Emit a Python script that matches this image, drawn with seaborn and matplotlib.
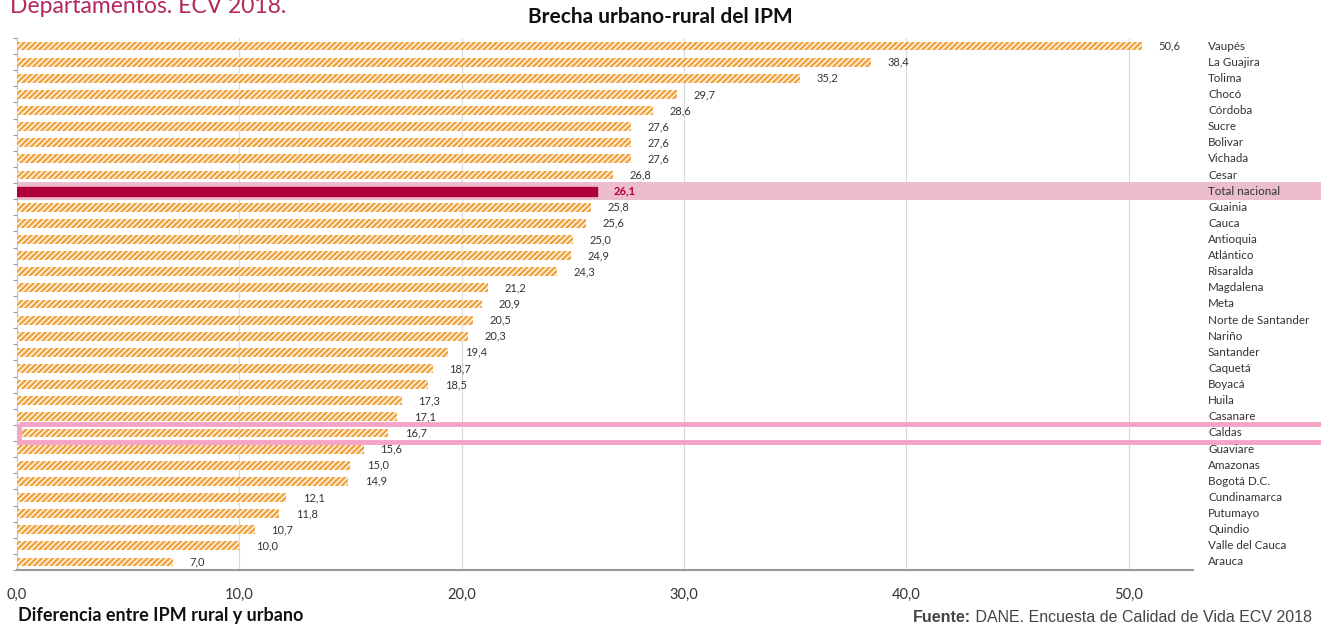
import numpy as np
import pandas as pd
import matplotlib
matplotlib.use("Agg")
import matplotlib.pyplot as plt
import matplotlib.transforms as mtransforms
from matplotlib.patches import Rectangle
import seaborn as sns

# Data
departamentos = ["Vaupés", "La Guajira", "Tolima", "Chocó", "Córdoba", "Sucre",
                 "Bolivar", "Vichada", "Cesar", "Total nacional", "Guainia", "Cauca",
                 "Antioquia", "Atlántico", "Risaralda", "Magdalena", "Meta",
                 "Norte de Santander", "Nariño", "Santander", "Caquetá", "Boyacá",
                 "Huila", "Casanare", "Caldas", "Guaviare", "Amazonas", "Bogotá D.C.",
                 "Cundinamarca", "Putumayo", "Quindio", "Valle del Cauca", "Arauca"]
brecha = [50.6, 38.4, 35.2, 29.7, 28.6, 27.6, 27.6, 27.6, 26.8, 26.1, 25.8, 25.6,
          25.0, 24.9, 24.3, 21.2, 20.9, 20.5, 20.3, 19.4, 18.7, 18.5, 17.3, 17.1,
          16.7, 15.6, 15.0, 14.9, 12.1, 11.8, 10.7, 10.0, 7.0]
x_ticks = [0, 10, 20, 30, 40, 50]

df = pd.DataFrame({"dep": departamentos, "brecha": brecha})

sns.set_style("white")
plt.rcParams["font.family"] = ["Lato", "DejaVu Sans"]
plt.rcParams["hatch.linewidth"] = 1.7

ORANGE = "#F0A33C"
CRIMSON = "#B0003A"
PINK = "#ECBCCF"
PINK_EDGE = "#F5A3C7"

fig = plt.figure(figsize=(13.21, 6.29), dpi=100)
ax = fig.add_axes([17 / 1321, 1 - 570 / 629, (1193 - 17) / 1321, (570 - 38) / 629])

sns.barplot(data=df, x="brecha", y="dep", orient="h", ax=ax, width=0.55,
            color=ORANGE, saturation=1)

total_idx = departamentos.index("Total nacional")
caldas_idx = departamentos.index("Caldas")

for i, p in enumerate(ax.patches):
    if i == total_idx:
        p.set_facecolor(CRIMSON)
        p.set_edgecolor(CRIMSON)
        p.set_hatch(None)
    else:
        p.set_facecolor("#FFF8EE")
        p.set_edgecolor(ORANGE)
        p.set_linewidth(0)
        p.set_hatch("//////")
    p.set_zorder(3)

ax.set_xlim(0, 52.9)
ax.set_ylim(len(departamentos) - 0.5, -0.5)

# highlight band for Total nacional
trans = mtransforms.blended_transform_factory(ax.transAxes, ax.transData)
xr = (1321 - 17) / (1193 - 17)
ax.add_patch(Rectangle((0, total_idx - 0.55), xr, 1.1, transform=trans,
                       facecolor=PINK, edgecolor="none", clip_on=False, zorder=1))
# outline for Caldas
ax.add_patch(Rectangle((0.002, caldas_idx - 0.55), xr, 1.1, transform=trans,
                       facecolor="none", edgecolor=PINK_EDGE, linewidth=3.5,
                       clip_on=False, zorder=5))

# value labels and department names
for i, v in enumerate(brecha):
    lbl = f"{v:.1f}".replace(".", ",")
    if i == total_idx:
        ax.text(v + 0.75, i, lbl, va="center", ha="left", fontsize=8,
                color=CRIMSON, fontweight="bold", zorder=6)
    else:
        ax.text(v + 0.75, i, lbl, va="center", ha="left", fontsize=8,
                color="#333333", zorder=6)
    ax.text(1.0128, i, departamentos[i], transform=trans, va="center", ha="left",
            fontsize=8.4, color="#333333", clip_on=False, zorder=6)

# axes styling
ax.set_xticks(x_ticks)
ax.set_xticklabels([f"{t:.1f}".replace(".", ",") for t in x_ticks], fontsize=10.5,
                   color="#333333")
ax.tick_params(axis="x", length=4, width=1, color="#999999", pad=9, direction="out")
ax.xaxis.grid(True, color="#D9D9D9", linewidth=0.8, zorder=0)
ax.set_axisbelow(True)
ax.set_yticks(np.arange(-0.5, len(departamentos), 1))
ax.set_yticklabels([])
ax.tick_params(axis="y", length=3, width=0.8, color="#999999", left=True)
ax.set_xlabel("")
ax.set_ylabel("")
for s in ["top", "right"]:
    ax.spines[s].set_visible(False)
ax.spines["left"].set_color("#BBBBBB")
ax.spines["left"].set_linewidth(0.8)
ax.spines["bottom"].set_color("#999999")
ax.spines["bottom"].set_linewidth(1.5)

# titles and notes
fig.text(10 / 1321, 1 - 13 / 629, "Departamentos. ECV 2018.", fontsize=16.5,
         color="#B4275E", ha="left", va="baseline")
fig.text(660 / 1321, 1 - 17 / 629, "Brecha urbano-rural del IPM", fontsize=15,
         fontweight="bold", color="#111111", ha="center", va="center")
fig.text(18 / 1321, 1 - 616 / 629, "Diferencia entre IPM rural y urbano", fontsize=13,
         fontweight="bold", color="#111111", ha="left", va="center")
resto = fig.text(1312 / 1321, 1 - 617 / 629, " DANE. Encuesta de Calidad de Vida ECV 2018",
                 fontsize=11.5, color="#444444", ha="right", va="center",
                 family=["Liberation Sans", "DejaVu Sans"])
ax.annotate("Fuente:", xy=(0, 0.5), xycoords=resto, fontsize=11.5, color="#444444",
            ha="right", va="center", fontweight="bold",
            family=["Liberation Sans", "DejaVu Sans"], annotation_clip=False)

fig.savefig("out.png", dpi=100)
